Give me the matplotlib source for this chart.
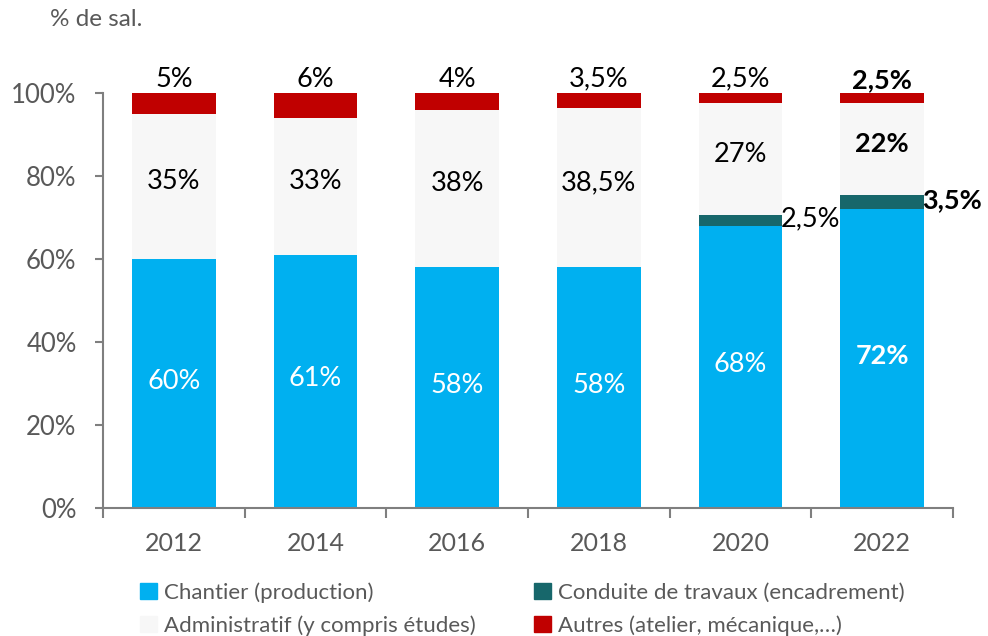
import matplotlib.pyplot as plt
from matplotlib.patches import Patch
import numpy as np

plt.rcParams['font.family'] = ['Lato', 'DejaVu Sans']

annees = ["2012", "2014", "2016", "2018", "2020", "2022"]
chantier = [60, 61, 58, 58, 68, 72]
conduite = [0, 0, 0, 0, 2.5, 3.5]
admin = [35, 33, 38, 38.5, 27, 22]
autres = [5, 6, 4, 3.5, 2.5, 2.5]

c_chantier = "#00B0F0"
c_conduite = "#17676B"
c_admin = "#F7F7F7"
c_autres = "#C00000"
gris = "#7F7F7F"
texte = "#595959"

def fmt(v):
    s = ("%g" % v).replace(".", ",")
    return s + "%"

fig = plt.figure(figsize=(9.88, 6.36), dpi=100)
ax = fig.add_axes([103 / 988, 128 / 636, 850 / 988, 415 / 636])

x = np.arange(len(annees))
w = 0.59
b1 = np.array(chantier)
b2 = b1 + np.array(conduite)
b3 = b2 + np.array(admin)
ax.bar(x, chantier, w, color=c_chantier)
ax.bar(x, conduite, w, bottom=b1, color=c_conduite)
ax.bar(x, admin, w, bottom=b2, color=c_admin)
ax.bar(x, autres, w, bottom=b3, color=c_autres)

fs = 19.5
for i in range(len(annees)):
    gras = "bold" if annees[i] == "2022" else "normal"
    ax.text(x[i], chantier[i] / 2 + 0.6, fmt(chantier[i]), ha="center", va="center",
            color="white", fontsize=fs, fontweight=gras)
    ax.text(x[i], b2[i] + admin[i] / 2 + 1.2, fmt(admin[i]), ha="center", va="center",
            color="black", fontsize=fs, fontweight=gras)
    ax.text(x[i], 100.3, fmt(autres[i]), ha="center", va="bottom",
            color="black", fontsize=fs, fontweight=gras, clip_on=False)
    if conduite[i] > 0:
        ax.text(x[i] + w / 2 - 0.01, b1[i] + conduite[i] / 2 + 0.5, fmt(conduite[i]),
                ha="left", va="center", color="black", fontsize=fs,
                fontweight=gras, clip_on=False)

ax.set_xlim(-0.5, len(annees) - 0.5)
ax.set_ylim(0, 100)
ax.set_yticks(range(0, 101, 20))
ax.set_yticklabels([str(v) + "%" for v in range(0, 101, 20)])
ax.set_xticks(x)
ax.set_xticklabels(annees)
ax.set_xticks(np.arange(-0.5, len(annees), 1), minor=True)
ax.tick_params(axis="x", which="major", length=0, pad=17, labelsize=18, labelcolor=texte)
ax.tick_params(axis="x", which="minor", length=7, width=1.5, color=gris)
ax.tick_params(axis="y", length=6, width=1.5, color=gris, labelsize=18.5, labelcolor=texte, pad=13)

for s in ["top", "right"]:
    ax.spines[s].set_visible(False)
for s in ["left", "bottom"]:
    ax.spines[s].set_color(gris)
    ax.spines[s].set_linewidth(1.5)

fig.text(50 / 988, 1 - 20 / 636, "% de sal.", ha="left", va="center",
         fontsize=17.5, color=texte)

handles = [Patch(color=c_chantier), Patch(color=c_admin),
           Patch(color=c_conduite), Patch(color=c_autres)]
labels = ["Chantier (production)", "Administratif (y compris études)",
          "Conduite de travaux (encadrement)", "Autres (atelier, mécanique,…)"]
fig.legend(handles, labels, ncol=2, loc="center left",
           bbox_to_anchor=(140 / 988, 1 - 609 / 636), frameon=False,
           fontsize=16, labelcolor=texte, handlelength=0.75, handleheight=0.75,
           handletextpad=0.35, columnspacing=2.6, labelspacing=0.55,
           borderaxespad=0, borderpad=0)

fig.savefig("out.png", dpi=100)
